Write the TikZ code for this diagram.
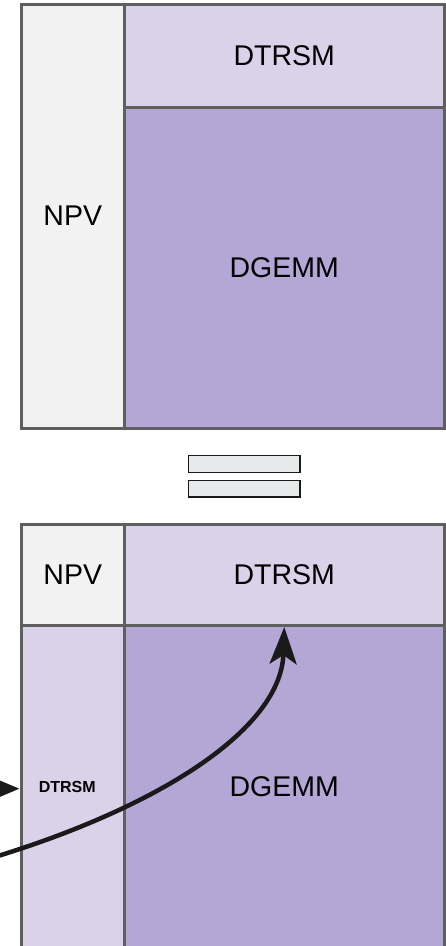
\documentclass[tikz,border=0pt]{standalone}
\usepackage{fontspec}
\setmainfont{Liberation Sans}
\usetikzlibrary{arrows.meta}
\definecolor{cellgray}{HTML}{F2F2F2}
\definecolor{lpurple}{HTML}{D9D2E9}
\definecolor{mpurple}{HTML}{B4A7D6}
\definecolor{bordergray}{HTML}{5F5F5F}
\definecolor{eqfill}{HTML}{E7EAEB}
\definecolor{ink}{HTML}{1A1A1A}
\begin{document}
\begin{tikzpicture}[x=1pt,y=-1pt,
  cell/.style={draw=bordergray, line width=3pt, inner sep=0pt, anchor=center},
  big/.style={font=\fontsize{28.5}{34}\selectfont},
  small/.style={font=\bfseries\fontsize{16}{19}\selectfont},
  eqbar/.style={draw=ink, fill=eqfill, line width=1.3pt, minimum width=111.7pt, minimum height=16.6pt, inner sep=0pt},
  conn/.style={draw=ink, line width=4.5pt, -{Stealth[length=37pt, width=27pt, inset=9pt]}},
  inarrow/.style={draw=ink, line width=3pt, -{Triangle[length=22pt, width=17.5pt]}}
]
\useasboundingbox (0,0) rectangle (446,946);
\fill[white] (0,0) rectangle (446,946);
\clip (0,0) rectangle (446,946);

% top block
\node[cell, fill=cellgray, big, minimum width=103.5pt, minimum height=424pt] (tnpv) at (72.75,216) {NPV};
\node[cell, fill=lpurple, big, minimum width=319.5pt, minimum height=103.5pt] (ttrsm) at (284.25,55.75) {DTRSM};
\node[cell, fill=mpurple, big, minimum width=319.5pt, minimum height=320.5pt] (tgemm) at (284.25,267.75) {DGEMM};

% equals sign
\node[eqbar] (eq1) at (244.2,464) {};
\node[eqbar] (eq2) at (244.2,488.8) {};

% bottom block
\node[cell, fill=cellgray, big, minimum width=103.5pt, minimum height=101.5pt] (bnpv) at (72.75,574.75) {NPV};
\node[cell, fill=lpurple, big, minimum width=319.5pt, minimum height=101.5pt] (btrsm) at (284.25,574.75) {DTRSM};
\node[cell, fill=lpurple, small, minimum width=103.5pt, minimum height=322.5pt] (bltrsm) at (72.75,786.75) {\hspace*{-11pt}DTRSM};
\node[cell, fill=mpurple, big, minimum width=319.5pt, minimum height=322.5pt] (bgemm) at (284.25,786.75) {DGEMM};

% connectors
\coordinate (inA) at (-80,788.7);
\draw[inarrow] (inA) -- (bltrsm.west |- inA);
\coordinate (cs) at (-40,867);
\draw[conn] (cs) .. controls (140,818) and (281,735) .. (btrsm.south);
\end{tikzpicture}
\end{document}
